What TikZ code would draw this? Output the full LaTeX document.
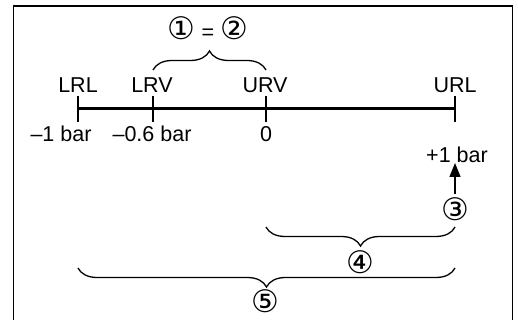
\documentclass[tikz,border=0pt]{standalone}
\usepackage{fontspec}
\setmainfont{Liberation Sans}
\newfontfamily\circfont{DejaVu Sans}
\usetikzlibrary{decorations.pathreplacing,arrows.meta}
\begin{document}
\begin{tikzpicture}[x=1pt,y=-1pt,
  frameline/.style={line width=1.3pt},
  axisline/.style={line width=3pt},
  tickline/.style={line width=1.4pt},
  lbl/.style={font=\fontsize{21.5}{23}\selectfont, inner sep=0pt},
  circ/.style={font=\fontsize{31}{33}\selectfont\circfont, inner sep=0pt},
  bracel/.style={line width=1.3pt, decorate, decoration={brace, amplitude=19pt, aspect=0.5}}]
\useasboundingbox (0,0) rectangle (518,320);
\fill[white] (0,0) rectangle (518,320);
% frame (open at bottom)
\coordinate (fbl) at (13.5,320);
\coordinate (ftl) at (13.5,6);
\coordinate (ftr) at (512.5,6);
\coordinate (fbr) at (512.5,320);
\draw[frameline] (fbl) -- (ftl) -- (ftr) -- (fbr);
% axis
\coordinate (xLRL) at (78,109);
\coordinate (xLRV) at (153,109);
\coordinate (xURV) at (266,109);
\coordinate (xURL) at (455,109);
\draw[axisline] (xLRL) -- (xURL);
\foreach \p in {xLRL,xLRV,xURV,xURL}{
  \draw[tickline] ([yshift=13pt]\p) -- ([yshift=-13pt]\p);
}
% labels above
\node[lbl] (tLRL) at (78,85) {LRL};
\node[lbl] (tLRV) at (152,85) {LRV};
\node[lbl] (tURV) at (265,85) {URV};
\node[lbl] (tURL) at (455,85) {URL};
% labels below
\node[lbl] (vLRL) at (61,134) {–1 bar};
\node[lbl] (vLRV) at (152,134) {–0.6 bar};
\node[lbl] (vURV) at (266,134) {0};
\node[lbl] (vURL) at (457,155) {+1 bar};
% top brace
\coordinate (b1a) at (153,70);
\coordinate (b1b) at (266,70);
\draw[bracel] (b1a) -- (b1b);
\node[lbl] (c12) at (208,28) {{\circfont\fontsize{31}{33}\selectfont ①} = {\circfont\fontsize{31}{33}\selectfont ②}};
% arrow and 3
\node[circ] (c3) at (455,209) {③};
\coordinate (arrS) at (455,194);
\coordinate (arrE) at (455,163);
\draw[line width=1.4pt, -{Triangle[length=14pt,width=11pt]}] (arrS) -- (arrE);
% brace 4
\coordinate (b4a) at (455,227);
\coordinate (b4b) at (266,227);
\draw[bracel] (b4a) -- (b4b);
\node[circ] (c4) at (360,262) {④};
% brace 5
\coordinate (b5a) at (455,268);
\coordinate (b5b) at (78,268);
\draw[bracel] (b5a) -- (b5b);
\node[circ] (c5) at (265,301) {⑤};
\end{tikzpicture}
\end{document}
